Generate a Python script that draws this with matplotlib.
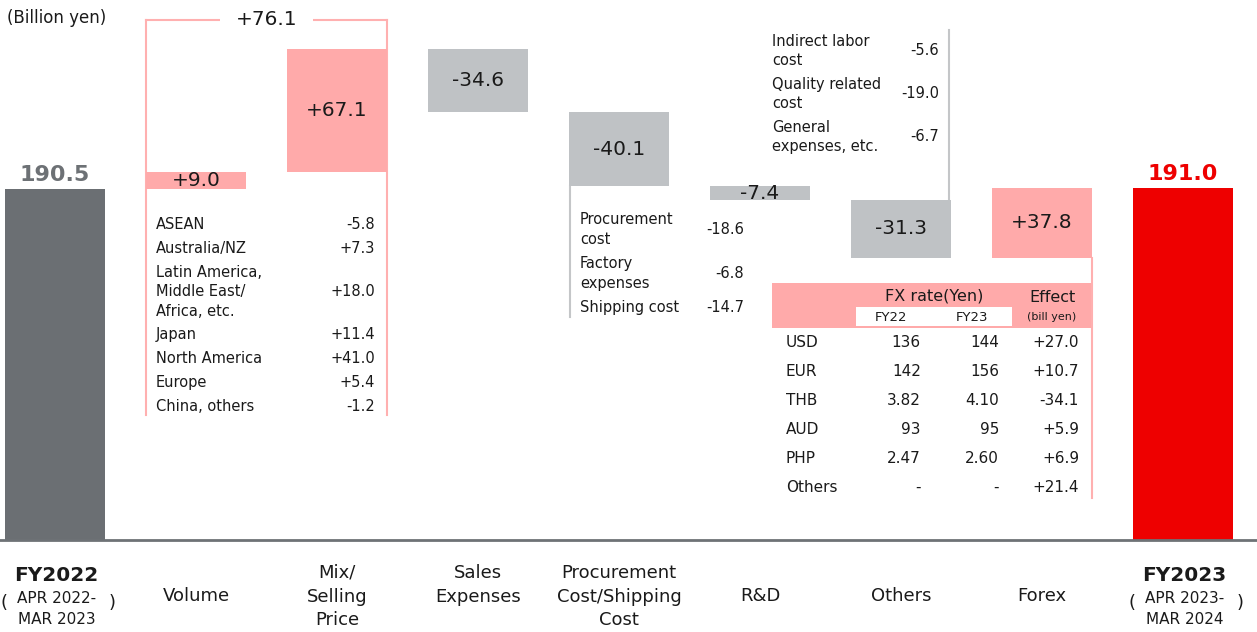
import numpy as np
import matplotlib
matplotlib.use("Agg")
import matplotlib.pyplot as plt
from matplotlib.patches import Rectangle

plt.rcParams["font.family"] = ["DejaVu Sans"]

# ---------- data (billion yen) ----------
categories = ["FY2022", "Volume", "Mix/\nSelling\nPrice", "Sales\nExpenses",
              "Procurement\nCost/Shipping\nCost", "R&D", "Others", "Forex", "FY2023"]
fy2022_value = 190.5
fy2023_value = 191.0
deltas = [9.0, 67.1, -34.6, -40.1, -7.4, -31.3, 37.8]
volume_mix_total = 76.1
period_labels = ["APR 2022-\nMAR 2023", "APR 2023-\nMAR 2024"]

region_names = ["ASEAN", "Australia/NZ", "Latin America,\nMiddle East/\nAfrica, etc.",
                "Japan", "North America", "Europe", "China, others"]
region_values = [-5.8, 7.3, 18.0, 11.4, 41.0, 5.4, -1.2]

procurement_items = ["Procurement\ncost", "Factory\nexpenses", "Shipping cost"]
procurement_values = [-18.6, -6.8, -14.7]

other_items = ["Indirect labor\ncost", "Quality related\ncost", "General\nexpenses, etc."]
other_values = [-5.6, -19.0, -6.7]

fx_currencies = ["USD", "EUR", "THB", "AUD", "PHP", "Others"]
fx_rate_fy22 = ["136", "142", "3.82", "93", "2.47", "-"]
fx_rate_fy23 = ["144", "156", "4.10", "95", "2.60", "-"]
fx_effects = [27.0, 10.7, -34.1, 5.9, 6.9, 21.4]

# ---------- style ----------
DARK = "#6b6f73"
PINK = "#ffaaaa"
GRAY = "#bfc2c5"
RED = "#ee0000"
TXT = "#1a1a1a"
LINE_PINK = "#ffb0b0"
LINE_GRAY = "#c4c6c8"
AXIS = "#6e7276"
BW = 0.71

W, H, DPI = 1257, 632, 100
XLIM = (-0.39, 8.525)
YLIM = (-49.9, 293.0)
sx = W / (XLIM[1] - XLIM[0])   # px per category step
sy = H / (YLIM[1] - YLIM[0])   # px per billion yen

fig = plt.figure(figsize=(W / DPI, H / DPI), dpi=DPI)
ax = fig.add_axes([0, 0, 1, 1])
ax.set_xlim(*XLIM)
ax.set_ylim(*YLIM)
ax.axis("off")

# ---------- waterfall ----------
xs = np.arange(len(categories))
levels = fy2022_value + np.concatenate([[0], np.cumsum(deltas)])
starts, ends = levels[:-1], levels[1:]
bottoms = np.minimum(starts, ends)
tops = np.maximum(starts, ends)
heights = np.abs(deltas)
step_x = xs[1:-1]
left = xs - BW / 2
right = xs + BW / 2

ax.bar(xs[0], fy2022_value, width=BW, color=DARK, zorder=2)
ax.bar(step_x, heights, bottom=bottoms, width=BW,
       color=[PINK if d > 0 else GRAY for d in deltas], zorder=2)
ax.bar(xs[-1], fy2023_value, width=BW, color=RED, zorder=2)
ax.axhline(0, color=AXIS, lw=2, zorder=3)

ax.text(xs[0], fy2022_value + 14 / sy, f"{fy2022_value:.1f}", ha="center", va="center",
        fontsize=16, fontweight="bold", color="#6d7175")
ax.text(xs[-1], fy2023_value + 14 / sy, f"{fy2023_value:.1f}", ha="center", va="center",
        fontsize=16, fontweight="bold", color=RED)
for x, b, h, d in zip(step_x, bottoms, heights, deltas):
    ax.text(x, b + h / 2, f"{d:+.1f}", ha="center", va="center", fontsize=14.5,
            color=TXT, zorder=4)

# ---------- category labels ----------
for x, cat in zip(step_x, categories[1:-1]):
    n = cat.count("\n") + 1
    cy = 56 if n == 1 else 33 + (n - 1) * 11.75
    ax.text(x, -cy / sy, cat, ha="center", va="center", fontsize=13,
            linespacing=1.4, color=TXT)

for x, name, period in [(xs[0], categories[0], period_labels[0]),
                        (xs[-1], categories[-1], period_labels[1])]:
    ax.text(x + 1 / sx, -35 / sy, name, ha="center", va="center", fontsize=14.5,
            fontweight="bold", color=TXT)
    ax.text(x + 2 / sx, -69 / sy, period, ha="center", va="center", fontsize=11,
            linespacing=1.5, color=TXT)
    ax.text(x - 51 / sx, -63 / sy, "(", ha="center", va="center", fontsize=13, color=TXT)
    ax.text(x + 57 / sx, -63 / sy, ")", ha="center", va="center", fontsize=13, color=TXT)

ax.text(XLIM[0] + 7 / sx, YLIM[1] - 18 / sy, "(Billion yen)", ha="left", va="center",
        fontsize=12, color=TXT)


def breakdown(names, vals, x_left, x_right, y0, size=10.5, line_px=19, pad=5):
    """name / value rows stacked downward from y0 (first row centre)."""
    off, prev_h, ys = 0.0, None, []
    for name, v in zip(names, vals):
        h = (name.count("\n") + 1) * line_px + pad
        if prev_h is not None:
            off += (prev_h + h) / 2
        prev_h = h
        y = y0 - off / sy
        ax.text(x_left, y, name, ha="left", va="center", fontsize=size,
                linespacing=1.4, color=TXT)
        ax.text(x_right, y, f"{v:+.1f}", ha="right", va="center", fontsize=size, color=TXT)
        ys.append(y)
    return ys


# volume + mix: regional breakdown under a bracket
rows = breakdown(region_names, region_values, left[1] + 10 / sx, right[2] - 12 / sx,
                 starts[0] - 36 / sy)
br_top = tops[1] + 29 / sy
br_bot = rows[-1] - 8 / sy
ax.plot([left[1], left[1]], [br_bot, br_top], color=LINE_PINK, lw=1.5, zorder=1)
ax.plot([right[2], right[2]], [br_bot, br_top], color=LINE_PINK, lw=1.5, zorder=1)
ax.plot([left[1], right[2]], [br_top, br_top], color=LINE_PINK, lw=1.5, zorder=1)
ax.text((left[1] + right[2]) / 2, br_top, f"{volume_mix_total:+.1f}", ha="center",
        va="center", fontsize=14.5, color=TXT, zorder=4,
        bbox=dict(boxstyle="square,pad=0.8", fc="white", ec="none"))

# procurement / shipping breakdown
rows = breakdown(procurement_items, procurement_values, left[4] + 11 / sx,
                 right[4] + 75 / sx, bottoms[3] - 43 / sy, pad=6)
ax.plot([left[4] + 1 / sx] * 2, [bottoms[3], bottoms[3] - 131 / sy], color=LINE_GRAY,
        lw=1.5, zorder=1)

# others breakdown, above the bar
breakdown(other_items, other_values, left[6] - 79 / sx, right[6] - 12 / sx,
          tops[5] + 149 / sy)
ax.plot([right[6] - 2 / sx] * 2, [tops[5], tops[5] + 170 / sy], color=LINE_GRAY,
        lw=1.5, zorder=1)

# forex table
yb = bottoms[6]
bl, brx = left[6] - 79 / sx, right[7]
ax.add_patch(Rectangle((bl, yb - 70 / sy), brx - bl, 45 / sy, fc=PINK, ec="none", zorder=1))
ax.add_patch(Rectangle((bl + 84 / sx, yb - 68 / sy), 156 / sx, 19 / sy, fc="white",
                       ec="none", zorder=1))
ax.plot([brx, brx], [yb, yb - 240 / sy], color=LINE_PINK, lw=1.5, zorder=1)
ax.text(bl + 162 / sx, yb - 38.5 / sy, "FX rate(Yen)", ha="center", va="center",
        fontsize=11.5, color=TXT)
ax.text(bl + 119 / sx, yb - 59.5 / sy, "FY22", ha="center", va="center", fontsize=9.5,
        color=TXT)
ax.text(bl + 200 / sx, yb - 59.5 / sy, "FY23", ha="center", va="center", fontsize=9.5,
        color=TXT)
ax.text(brx - 40 / sx, yb - 40 / sy, "Effect", ha="center", va="center", fontsize=11.5,
        color=TXT)
ax.text(brx - 40 / sx, yb - 59 / sy, "(bill yen)", ha="center", va="center", fontsize=8,
        color=TXT)
for k, (cur, r22, r23, eff) in enumerate(zip(fx_currencies, fx_rate_fy22, fx_rate_fy23,
                                              fx_effects)):
    y = yb - (85 + 29 * k) / sy
    ax.text(bl + 14 / sx, y, cur, ha="left", va="center", fontsize=11, color=TXT)
    ax.text(bl + 149 / sx, y, r22, ha="right", va="center", fontsize=11, color=TXT)
    ax.text(bl + 227 / sx, y, r23, ha="right", va="center", fontsize=11, color=TXT)
    ax.text(brx - 13 / sx, y, f"{eff:+.1f}", ha="right", va="center", fontsize=11, color=TXT)

fig.savefig("out.png", dpi=DPI)
